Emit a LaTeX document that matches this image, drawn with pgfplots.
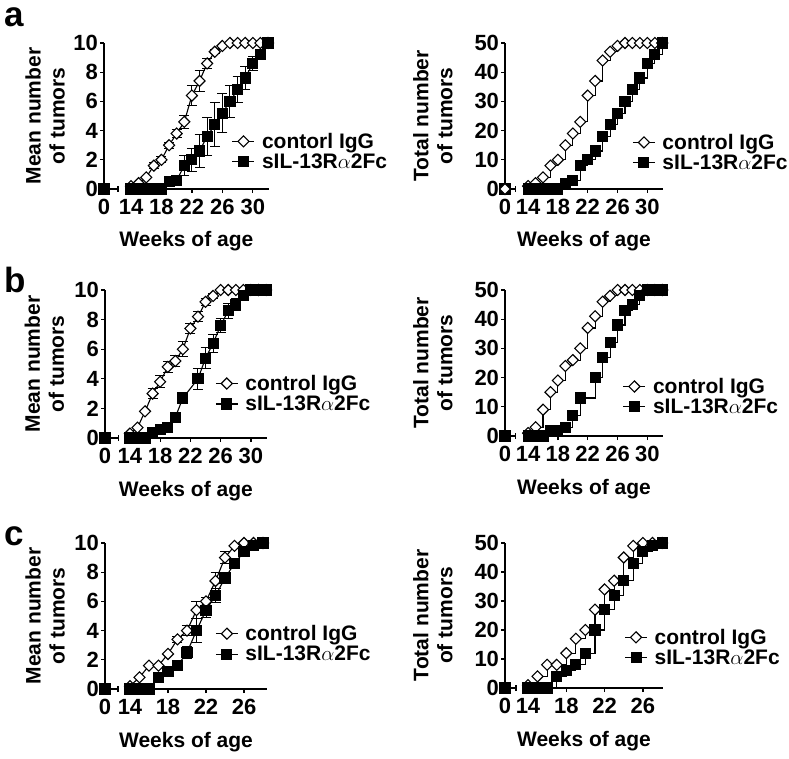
\documentclass[border=0pt]{standalone}
\usepackage{fontspec}
\setmainfont{Liberation Sans}
\usepackage{pgfplots}
\pgfplotsset{compat=1.18}
\usepackage{pgfplotstable}

% ---------- panel a ----------
\pgfplotstableread{
x y
14 0.2
15 0.4
16 0.8
17 1.6
18 2.0
19 3.0
20 3.8
21 4.6
22 6.4
23 7.4
24 8.6
25 9.4
26 9.8
27 10
28 10
29 10
30 10
31 10
32 10
}\aMeanCtrl
\pgfplotstableread{
x y e
17 1.6 0.2
18 2.0 0.2
19 3.0 0.2
20 3.8 0.3
21 4.6 0.45
22 6.4 0.7
23 7.4 0.7
24 8.6 0.35
25 9.4 0.15
}\aMeanCtrlErr
\pgfplotstableread{
x y
14 0
15 0
16 0
17 0
18 0
19 0.5
20 0.6
21 1.6
22 2.0
23 2.6
24 3.6
25 4.4
26 5.2
27 6.0
28 6.8
29 7.6
30 8.6
31 9.2
32 10
}\aMeanSil
\pgfplotstableread{
x y e
20 0.6 0.2
21 1.6 0.7
22 2.0 0.8
23 2.6 1.1
24 3.6 1.3
25 4.4 1.5
26 5.2 1.35
27 6.0 1.1
28 6.8 0.9
29 7.6 0.8
30 8.6 0.5
31 9.2 0.3
}\aMeanSilErr
\pgfplotstableread{
x y
14 1
15 2
16 4
17 8
18 10
19 15
20 19
21 23
22 32
23 37
24 44
25 47
26 49
27 50
28 50
29 50
30 50
31 50
32 50
}\aTotCtrl
\pgfplotstableread{
x y
14 0
15 0
16 0
17 0
18 0
19 2
20 3
21 8
22 10
23 13
24 18
25 22
26 26
27 30
28 34
29 38
30 43
31 46
32 50
}\aTotSil

% ---------- panel b ----------
\pgfplotstableread{
x y
14 0.3
15 0.7
16 1.8
17 3.0
18 3.8
19 4.8
20 5.2
21 6.0
22 7.4
23 8.2
24 9.2
25 9.6
26 10
27 10
28 10
29 10
30 10
31 10
32 10
}\bMeanCtrl
\pgfplotstableread{
x y e
17 3.0 0.35
18 3.8 0.4
19 4.8 0.35
20 5.2 0.35
21 6.0 0.5
22 7.4 0.35
23 8.2 0.35
24 9.2 0.25
25 9.6 0.15
}\bMeanCtrlErr
\pgfplotstableread{
x y
14 0
15 0
16 0
17 0.4
18 0.6
19 0.7
20 1.4
21 2.7
23 4.0
24 5.4
25 6.4
26 7.6
27 8.6
28 9.0
29 9.6
30 10
31 10
32 10
}\bMeanSil
\pgfplotstableread{
x y e
21 2.7 0.2
23 4.0 0.7
24 5.4 0.7
25 6.4 0.6
26 7.6 0.5
27 8.6 0.5
28 9.0 0.4
29 9.6 0.2
}\bMeanSilErr
\pgfplotstableread{
x y
14 1
15 3
16 9
17 15
18 19
19 24
20 26
21 30
22 37
23 41
24 46
25 48
26 50
27 50
28 50
29 50
30 50
31 50
32 50
}\bTotCtrl
\pgfplotstableread{
x y
14 0
15 0
16 0
17 2
18 2
19 3
20 7
21 13
23 20
24 27
25 32
26 38
27 43
28 45
29 48
30 50
31 50
32 50
}\bTotSil

% ---------- panel c ----------
\pgfplotstableread{
x y
14 0.2
15 0.8
16 1.6
17 1.6
18 2.4
19 3.4
20 4.0
21 5.4
22 6.0
23 7.4
24 9.0
25 9.8
26 10
27 10
28 10
}\cMeanCtrl
\pgfplotstableread{
x y e
19 3.4 0.2
20 4.0 0.35
21 5.4 0.6
22 6.0 0.3
23 7.4 0.55
24 9.0 0.4
}\cMeanCtrlErr
\pgfplotstableread{
x y
14 0
15 0
16 0
17 0.8
18 1.2
19 1.6
20 2.5
21 4.0
22 5.4
23 6.4
24 7.6
25 8.6
26 9.4
27 9.8
28 10
}\cMeanSil
\pgfplotstableread{
x y e
20 2.5 0.4
21 4.0 0.8
22 5.4 0.5
23 6.4 0.5
24 7.6 0.4
}\cMeanSilErr
\pgfplotstableread{
x y
14 1
15 4
16 8
17 8
18 12
19 17
20 20
21 27
22 34
23 37
24 45
25 49
26 50
27 50
28 50
}\cTotCtrl
\pgfplotstableread{
x y
14 0
15 0
16 0
17 4
18 6
19 8
20 12
21 20
22 27
23 32
24 37
25 43
26 47
27 49
28 50
}\cTotSil

\tikzset{brk/.style={line width=1.3pt, black}}

\pgfplotsset{
  panel/.style={
    scale only axis, clip=false,
    axis x line=bottom, axis y line=left,
    axis line style={-, line width=1.3pt, black},
    x axis line style={draw=none},
    tick align=outside, major tick length=4pt,
    every tick/.style={black, line width=1.2pt},
    xtick={14,18,22,26,30},
    ymin=0,
    ticklabel style={font=\bfseries\fontsize{22}{22}\selectfont},
    yticklabel style={xshift=1.5pt},
    xticklabel style={yshift=-3pt},
    /pgf/number format/assume math mode=true,
    label style={font=\bfseries\fontsize{21}{24}\selectfont},
    xlabel={Weeks of age},
    xlabel style={at={(axis description cs:0.5,0)}, anchor=base, yshift=-58pt},
    legend cell align=left,
    legend style={draw=none, fill=none, inner sep=0pt, anchor=west,
      font=\bfseries\fontsize{21}{24}\selectfont,
      nodes={inner sep=1pt}, column sep=6pt, row sep=2pt},
    legend image code/.code={\draw[#1, mark repeat=2, mark phase=2] plot coordinates {(0pt,0pt) (11pt,0pt) (22pt,0pt)};},
  },
  ctrl/.style={black, line width=1.1pt, mark=square*, mark size=3.9pt, mark options={fill=white, solid, line width=1.1pt, rotate=45}},
  sil/.style={black, line width=1.1pt, mark=square*, mark size=5pt, mark options={fill=black, solid}},
  ebar/.style={forget plot, draw=none, mark=none,
    error bars/.cd, y dir=both, y explicit,
    error bar style={draw=black, line width=1pt},
    error mark options={draw=black, rotate=90, mark size=5pt, line width=1pt}},
}

\begin{document}
\begin{tikzpicture}
\useasboundingbox (0pt,0pt) rectangle (789pt,758pt);

\node[anchor=base west, font=\bfseries\fontsize{35}{35}\selectfont, inner sep=0pt] at (4pt,731pt) {a};
\node[anchor=base west, font=\bfseries\fontsize{35}{35}\selectfont, inner sep=0pt] at (4pt,465pt) {b};
\node[anchor=base west, font=\bfseries\fontsize{35}{35}\selectfont, inner sep=0pt] at (4pt,213pt) {c};

% ===== a left =====
\begin{axis}[panel, at={(104pt,569pt)}, anchor=south west, width=164.8pt, height=146pt,
  xmin=10.45, xmax=32.1, ymax=10, ytick={0,2,4,6,8,10},
  extra x ticks={10.45}, extra x tick labels={0},
  ylabel={Mean number\\of tumors}, ylabel style={at={(axis description cs:-0.358,0.5)}, anchor=center, align=center},
  legend style={at={(axis description cs:0.775,0.257)}}]
\draw[brk] (axis cs:10.45,0) -- (axis cs:12.3,0);
\draw[brk] (axis cs:12.3,0) ++(0pt,-3pt) -- ++(0pt,6pt);
\draw[brk] (axis cs:13.5,0) -- (axis cs:32.1,0);
\addplot[ebar] table[x=x, y=y, y error=e] {\aMeanCtrlErr};
\addplot[ebar] table[x=x, y=y, y error=e] {\aMeanSilErr};
\addplot[ctrl] table[x=x, y=y] {\aMeanCtrl};
\addlegendentry{contorl IgG}
\addplot[sil] table[x=x, y=y] {\aMeanSil};
\addlegendentry{sIL-13R$\alpha$2Fc}
\addplot[sil, only marks, forget plot] coordinates {(10.45,0)};
\end{axis}

% ===== a right =====
\begin{axis}[panel, at={(505pt,569pt)}, anchor=south west, width=158pt, height=146pt,
  xmin=10.9, xmax=32.1, ymax=50, ytick={0,10,20,30,40,50},
  extra x ticks={10.9}, extra x tick labels={0},
  ylabel={Total number\\of tumors}, ylabel style={at={(axis description cs:-0.456,0.5)}, anchor=center, align=center},
  legend style={at={(axis description cs:0.805,0.25)}}]
\draw[brk] (axis cs:10.9,0) -- (axis cs:12.3,0);
\draw[brk] (axis cs:12.3,0) ++(0pt,-3pt) -- ++(0pt,6pt);
\draw[brk] (axis cs:13.6,0) -- (axis cs:32.1,0);
\addplot[ctrl, const plot] table[x=x, y=y] {\aTotCtrl};
\addlegendentry{control IgG}
\addplot[sil, const plot] table[x=x, y=y] {\aTotSil};
\addlegendentry{sIL-13R$\alpha$2Fc}
\addplot[sil, only marks, forget plot] coordinates {(10.9,0)};
\addplot[ctrl, only marks, forget plot] coordinates {(10.9,0)};
\end{axis}

% ===== b left =====
\begin{axis}[panel, at={(105pt,320pt)}, anchor=south west, width=161.8pt, height=148pt,
  xmin=10.7, xmax=32.1, ymax=10, ytick={0,2,4,6,8,10},
  extra x ticks={10.7}, extra x tick labels={0},
  ylabel={Mean number\\of tumors}, ylabel style={at={(axis description cs:-0.374,0.5)}, anchor=center, align=center},
  legend style={at={(axis description cs:0.68,0.30)}}]
\draw[brk] (axis cs:10.7,0) -- (axis cs:12.45,0);
\draw[brk] (axis cs:12.45,0) ++(0pt,-3pt) -- ++(0pt,6pt);
\draw[brk] (axis cs:13.6,0) -- (axis cs:32.1,0);
\addplot[ebar] table[x=x, y=y, y error=e] {\bMeanCtrlErr};
\addplot[ebar] table[x=x, y=y, y error=e] {\bMeanSilErr};
\addplot[ctrl] table[x=x, y=y] {\bMeanCtrl};
\addlegendentry{control IgG}
\addplot[sil] table[x=x, y=y] {\bMeanSil};
\addlegendentry{sIL-13R$\alpha$2Fc}
\addplot[sil, only marks, forget plot] coordinates {(10.7,0)};
\end{axis}

% ===== b right =====
\begin{axis}[panel, at={(505pt,322pt)}, anchor=south west, width=158pt, height=146pt,
  xmin=10.9, xmax=32.1, ymax=50, ytick={0,10,20,30,40,50},
  extra x ticks={10.9}, extra x tick labels={0},
  ylabel={Total number\\of tumors}, ylabel style={at={(axis description cs:-0.456,0.5)}, anchor=center, align=center},
  legend style={at={(axis description cs:0.745,0.27)}}]
\draw[brk] (axis cs:10.9,0) -- (axis cs:12.3,0);
\draw[brk] (axis cs:12.3,0) ++(0pt,-3pt) -- ++(0pt,6pt);
\draw[brk] (axis cs:13.6,0) -- (axis cs:32.1,0);
\addplot[ctrl, const plot] table[x=x, y=y] {\bTotCtrl};
\addlegendentry{control IgG}
\addplot[sil, const plot] table[x=x, y=y] {\bTotSil};
\addlegendentry{sIL-13R$\alpha$2Fc}
\addplot[sil, only marks, forget plot] coordinates {(10.9,0)};
\end{axis}

% ===== c left =====
\begin{axis}[panel, at={(105pt,69pt)}, anchor=south west, width=162pt, height=146pt,
  xmin=11.37, xmax=28.42, ymax=10, ytick={0,2,4,6,8,10}, xtick={14,18,22,26},
  extra x ticks={11.37}, extra x tick labels={0},
  ylabel={Mean number\\of tumors}, ylabel style={at={(axis description cs:-0.37,0.5)}, anchor=center, align=center},
  legend style={at={(axis description cs:0.68,0.31)}}]
\draw[brk] (axis cs:11.37,0) -- (axis cs:12.75,0);
\draw[brk] (axis cs:12.75,0) ++(0pt,-3pt) -- ++(0pt,6pt);
\draw[brk] (axis cs:13.7,0) -- (axis cs:28.42,0);
\addplot[ebar] table[x=x, y=y, y error=e] {\cMeanCtrlErr};
\addplot[ebar] table[x=x, y=y, y error=e] {\cMeanSilErr};
\addplot[ctrl] table[x=x, y=y] {\cMeanCtrl};
\addlegendentry{control IgG}
\addplot[sil] table[x=x, y=y] {\cMeanSil};
\addlegendentry{sIL-13R$\alpha$2Fc}
\addplot[sil, only marks, forget plot] coordinates {(11.37,0)};
\end{axis}

% ===== c right =====
\begin{axis}[panel, at={(505pt,70pt)}, anchor=south west, width=158pt, height=145pt,
  xmin=11.6, xmax=28.1, ymax=50, ytick={0,10,20,30,40,50}, xtick={14,18,22,26},
  extra x ticks={11.6}, extra x tick labels={0},
  ylabel={Total number\\of tumors}, ylabel style={at={(axis description cs:-0.456,0.5)}, anchor=center, align=center},
  legend style={at={(axis description cs:0.755,0.28)}}]
\draw[brk] (axis cs:11.6,0) -- (axis cs:12.75,0);
\draw[brk] (axis cs:12.75,0) ++(0pt,-3pt) -- ++(0pt,6pt);
\draw[brk] (axis cs:13.7,0) -- (axis cs:28.1,0);
\addplot[ctrl, const plot] table[x=x, y=y] {\cTotCtrl};
\addlegendentry{control IgG}
\addplot[sil, const plot] table[x=x, y=y] {\cTotSil};
\addlegendentry{sIL-13R$\alpha$2Fc}
\addplot[sil, only marks, forget plot] coordinates {(11.6,0)};
\end{axis}

\end{tikzpicture}
\end{document}
